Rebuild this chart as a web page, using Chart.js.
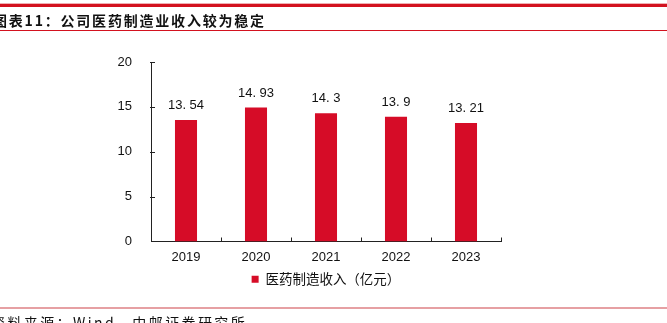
<!DOCTYPE html>
<html><head><meta charset="utf-8">
<script src="https://cdn.jsdelivr.net/npm/chart.js@4"></script>
<style>
html,body{margin:0;padding:0;background:#fff;width:667px;height:323px;overflow:hidden;position:relative;}
#wrap{position:absolute;left:0;top:0;width:667px;height:323px;}
.topline1{position:absolute;left:0;top:3px;width:667px;height:1px;background:#EFB0B3;}
.topline2{position:absolute;left:0;top:4px;width:667px;height:3px;background:#D3121F;}
.title{position:absolute;left:-7px;top:10px;font:bold 14px "Noto Sans CJK SC";letter-spacing:1.8px;color:#111;white-space:nowrap;line-height:20px;}
.titleline{position:absolute;left:0;top:30px;width:667px;height:1px;background:#D3121F;}
.footline{position:absolute;left:0;top:307px;width:667px;height:2px;background:#E6A0A3;}
.foot{position:absolute;left:-9px;top:312px;font:14px "Noto Sans CJK SC";letter-spacing:2.4px;color:#111;white-space:nowrap;line-height:20px;}
</style></head>
<body>
<div id="wrap"><canvas id="c" width="667" height="323"></canvas></div>
<div class="topline1"></div><div class="topline2"></div>
<div class="title">图表11：公司医药制造业收入较为稳定</div>
<div class="titleline"></div>
<div class="footline"></div>
<div class="foot">资料来源：Wind，中邮证券研究所</div>
<script>
const categories = ['2019','2020','2021','2022','2023'];
const revenue = [13.54, 14.93, 14.3, 13.9, 13.21];
const seriesName = '医药制造收入（亿元）';
const yTicks = [0,5,10,15,20];

const barColor = '#D60C27';
const numFont = '"Liberation Sans", Arial, sans-serif';

const labelPlugin = {
  id:'valLabels',
  afterDatasetsDraw(chart){
    const ctx = chart.ctx;
    const meta = chart.getDatasetMeta(0);
    ctx.save();
    ctx.fillStyle = '#111';
    ctx.font = '13px ' + numFont;
    ctx.textAlign = 'center';
    ctx.textBaseline = 'bottom';
    meta.data.forEach((bar,i)=>{
      const txt = String(revenue[i]).replace('.', '. ');
      ctx.fillText(txt, bar.x, bar.y - 8);
    });
    ctx.restore();
  }
};
const tickPlugin = {
  id:'innerTicks',
  afterDraw(chart){
    const ctx = chart.ctx;
    const x = chart.scales.x, y = chart.scales.y;
    const ca = chart.chartArea;
    ctx.save();
    ctx.strokeStyle = '#222';
    ctx.lineWidth = 1;
    ctx.beginPath();
    y.ticks.forEach(t=>{
      if (t.value === 0) return;
      const py = Math.round(y.getPixelForValue(t.value)) + 0.5;
      ctx.moveTo(ca.left - 1, py); ctx.lineTo(ca.left + 4, py);
    });
    const step = (ca.right - ca.left) / categories.length;
    for (let i = 1; i <= categories.length; i++){
      const px = Math.round(ca.left + step*i) + 0.5;
      ctx.moveTo(px, ca.bottom); ctx.lineTo(px, ca.bottom - 4);
    }
    ctx.stroke();
    ctx.restore();
  }
};

new Chart(document.getElementById('c'), {
  type:'bar',
  data:{
    labels: categories,
    datasets:[{label: seriesName, data: revenue, backgroundColor: barColor, borderWidth:0,
      categoryPercentage: 1, barPercentage: 0.315}]
  },
  options:{
    responsive:false, animation:false,
    layout:{padding:{left:0, top:62, right:166, bottom:27}},
    scales:{
      x:{
        grid:{display:false, drawTicks:false},
        border:{display:true, color:'#222', width:1},
        ticks:{color:'#111', font:{family:numFont, size:13}, padding:8},
        afterFit(s){ s.height = 28; }
      },
      y:{
        min:0, max:20,
        afterBuildTicks(s){ s.ticks = yTicks.map(v=>({value:v})); },
        grid:{display:false, drawTicks:false},
        border:{display:true, color:'#222', width:1},
        ticks:{color:'#111', font:{family:numFont, size:13}, padding:19},
        afterFit(s){ s.width = 151; }
      }
    },
    plugins:{
      legend:{
        position:'bottom', fullSize:false,
        labels:{boxWidth:7, boxHeight:7, color:'#111', padding:3,
          font:{family:'"Noto Sans CJK SC"', size:13.5}}
      },
      tooltip:{enabled:false}
    }
  },
  plugins:[labelPlugin, tickPlugin]
});
</script>
</body></html>
